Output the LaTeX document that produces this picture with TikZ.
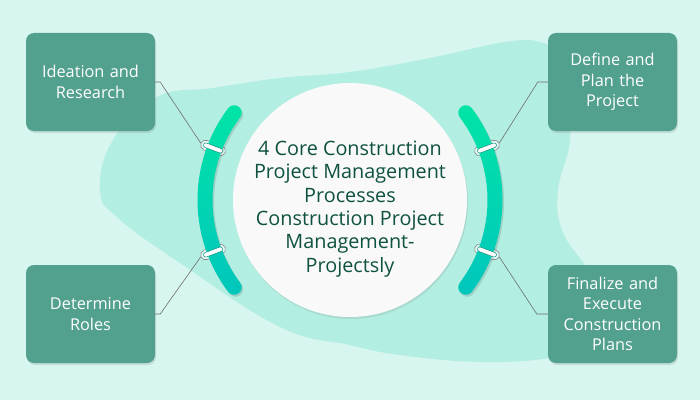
\documentclass[tikz,border=0pt]{standalone}
\usepackage{fontspec}
\setmainfont{Open Sans}
\usetikzlibrary{shadows}
\definecolor{bg}{HTML}{D7F6EF}
\definecolor{blob}{HTML}{B2EEE1}
\definecolor{boxc}{HTML}{52A08E}
\definecolor{titlec}{HTML}{0E5140}
\definecolor{arctop}{HTML}{00E4A6}
\definecolor{arcbot}{HTML}{00C6BC}
\definecolor{linec}{HTML}{6E6E6E}
\definecolor{circc}{HTML}{F9F9F9}
\definecolor{barc}{HTML}{0A8F7E}
\begin{document}
\begin{tikzpicture}[x=1pt,y=1pt,
  stepbox/.style={fill=boxc, rounded corners=8pt, minimum width=129pt, minimum height=98pt,
    text width=125pt, align=center, text=white, inner sep=0pt,
    font=\fontsize{16.3}{20.3}\selectfont,
    drop shadow={opacity=0.22,shadow xshift=1pt,shadow yshift=-2pt}},
  link/.style={draw=linec, line width=0.6pt},
  ring/.style={draw=linec!80, line width=0.6pt, fill=white, fill opacity=0.6, rounded corners=5pt},
  bar/.style={draw=barc, line width=0.5pt, fill=white, rounded corners=2.2pt},
]
\useasboundingbox (0,0) rectangle (700,400);
\fill[bg] (0,0) rectangle (700,400);
\fill[blob] plot[smooth cycle, tension=0.7] coordinates {
 (157,303) (213,312) (280,322) (350,328) (430,342) (505,358) (540,358) (555,345)
 (565,305) (570,260) (558,210) (562,170) (585,135) (612,100) (598,55) (550,42)
 (480,38) (400,45) (350,55) (280,73) (180,137) (118,182) (100,210) (113,260)};

% boxes
\node[stepbox] (b1) at (90.5,318) {Ideation and\\Research};
\node[stepbox] (b2) at (90.5,86) {Determine\\Roles};
\node[stepbox] (b3) at (612.5,318) {Define and\\Plan the\\Project};
\node[stepbox] (b4) at (612.5,86) {Finalize and\\Execute\\Construction\\Plans};

% central circle
\node[circle, fill=circc, minimum size=234pt, inner sep=0pt,
  drop shadow={opacity=0.18,shadow xshift=1pt,shadow yshift=-2pt}] (hub) at (350,200) {};

% ring anchor points
\foreach \a/\n in {159.2/rTL, 200.8/rBL, 20.8/rTR, -20.8/rBR}{
  \begin{scope}[shift={(350,200)}, rotate=\a]
    \coordinate (\n) at (159.5,0);
  \end{scope}
}

% connectors
\draw[link] (b1.east) -- ++(5,0) -- (rTL);
\draw[link] (b2.east) -- ++(5,0) -- (rBL);
\draw[link] (b3.west) -- ++(-10,0) -- (rTR);
\draw[link] (b4.west) -- ++(-11,0) -- (rBR);

% rings (under arcs)
\foreach \a in {159.2, 200.8, 20.8, -20.8}{
  \begin{scope}[shift={(350,200)}, rotate=\a]
    \draw[ring] (133.5,-5) rectangle (159.5,5);
  \end{scope}
}

% arcs
\def\leftarcpath{(143:152.5) arc[start angle=143,end angle=217,radius=152.5]
  arc[start angle=217,end angle=397,radius=7.5]
  arc[start angle=217,end angle=143,radius=137.5]
  arc[start angle=323,end angle=503,radius=7.5] -- cycle}
\def\rightarcpath{(-37:152.5) arc[start angle=-37,end angle=37,radius=152.5]
  arc[start angle=37,end angle=217,radius=7.5]
  arc[start angle=37,end angle=-37,radius=137.5]
  arc[start angle=143,end angle=323,radius=7.5] -- cycle}
\begin{scope}[shift={(351.5,198)}]
  \fill[black, opacity=0.12] \leftarcpath;
  \fill[black, opacity=0.12] \rightarcpath;
\end{scope}
\begin{scope}[shift={(350,200)}]
  \shade[top color=arctop, bottom color=arcbot] \leftarcpath;
  \shade[top color=arctop, bottom color=arcbot] \rightarcpath;
\end{scope}

% bars
\foreach \a in {159.2, 200.8, 20.8, -20.8}{
  \begin{scope}[shift={(350,200)}, rotate=\a]
    \draw[bar] (136.5,-2.3) rectangle (156.5,2.3);
  \end{scope}
}

% title
\node[text=titlec, align=center, font=\fontsize{19.8}{23.4}\selectfont] (title) at (350,191)
 {4 Core Construction\\Project Management\\Processes\\Construction Project\\Management-\\Projectsly};
\end{tikzpicture}
\end{document}
